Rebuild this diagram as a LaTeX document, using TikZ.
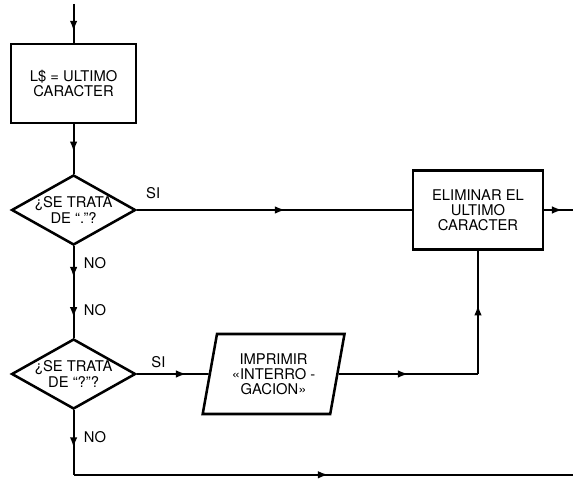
\documentclass[tikz,border=0pt]{standalone}
\usepackage{fontspec}
\setmainfont{TeX Gyre Heros}
\usepackage{tikz}
\usetikzlibrary{arrows.meta,shapes.geometric,decorations.markings,calc}
\tikzset{
  box/.style={draw, line width=1.8pt, align=center, inner sep=4pt, minimum width=3.125cm, minimum height=1.975cm},
  decision/.style={diamond, draw, line width=1.8pt, align=center, inner sep=0pt, aspect=1.77, minimum width=3.1cm, minimum height=1.75cm},
  iobox/.style={trapezium, trapezium left angle=77, trapezium right angle=103, trapezium stretches=true, draw, line width=1.8pt, align=center, minimum width=3.575cm, minimum height=2cm},
  flow/.style={line width=1.4pt, postaction={decorate, decoration={markings, mark=at position #1 with {\arrow{Latex[length=2.6mm, width=1.9mm]}}}}},
  flow/.default=0.55,
  tag/.style={font=\fontsize{10.5}{11}\selectfont}
}

\begin{document}
\begin{tikzpicture}[font=\fontsize{10.5}{10.8}\selectfont]
  \useasboundingbox (0,0) rectangle (14.325,11.95);

  \coordinate (start) at (1.84,11.85);
  \node[box] (last) at (1.84,9.86) {L\$ = ULTIMO\\CARACTER};
  \node[decision] (dot) at (1.84,6.7) {¿SE TRATA\\DE “.”?};
  \node[decision] (quest) at (1.84,2.6) {¿SE TRATA\\DE “?”?};
  \node[iobox] (print) at (6.84,2.6) {IMPRIMIR\\«INTERRO -\\GACION»};
  \node[box, minimum width=3.25cm] (drop) at (11.95,6.7) {ELIMINAR EL\\ULTIMO\\CARACTER};
  \coordinate (turn) at (drop.south |- print.east);
  \coordinate (out) at (14.325,6.7);
  \coordinate (low) at (1.84,0.08);
  \coordinate (end) at (14.325,0.08);

  \node[tag] at (3.83,7.12) {SI};
  \node[tag] at (3.96,2.9) {SI};
  \node[tag] at (2.375,5.375) {NO};
  \node[tag] at (2.375,4.2) {NO};
  \node[tag] at (2.375,1.025) {NO};

  \draw[flow=0.7] (start) -- (last.north);
  \draw[flow=0.56] (last.south) -- (dot.north);
  \draw[flow=0.54] (dot.east) -- (drop.west);
  \draw[flow=0.34, flow=0.78] (dot.south) -- (quest.north);
  \draw[flow=0.69] (quest.east) -- (print.west);
  \draw[flow=0.5] (print.east) -- (turn);
  \draw[flow=0.56] (turn) -- (drop.south);
  \draw[flow=0.63] (drop.east) -- (out);
  \draw[flow=0.58] (quest.south) -- (low);
  \draw[flow=0.51] (low) -- (end);
\end{tikzpicture}
\end{document}
